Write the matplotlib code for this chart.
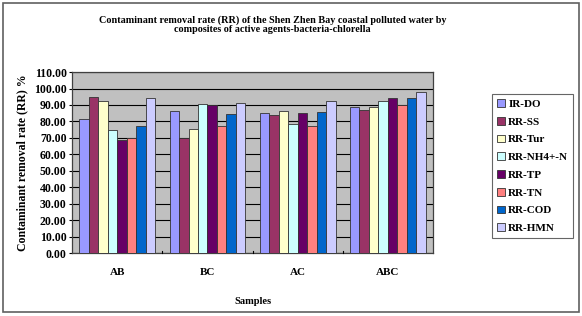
import matplotlib
matplotlib.use("Agg")
import matplotlib.pyplot as plt
import numpy as np
from matplotlib.patches import Rectangle

samples = ["AB", "BC", "AC", "ABC"]
series_names = ["IR-DO", "RR-SS", "RR-Tur", "RR-NH4+-N", "RR-TP", "RR-TN", "RR-COD", "RR-HMN"]
ir_do  = [81.3, 86.4, 85.4, 89.0]
rr_ss  = [94.9, 70.0, 83.8, 87.0]
rr_tur = [92.4, 75.1, 86.4, 89.0]
rr_nh4 = [74.5, 90.6, 78.7, 92.2]
rr_tp  = [68.6, 89.8, 85.4, 94.0]
rr_tn  = [70.0, 77.1, 77.5, 89.8]
rr_cod = [77.1, 84.6, 85.8, 94.0]
rr_hmn = [94.2, 91.0, 92.2, 97.9]
values = [ir_do, rr_ss, rr_tur, rr_nh4, rr_tp, rr_tn, rr_cod, rr_hmn]
colors = ["#9999FF", "#993366", "#FFFFCC", "#CCFFFF", "#660066", "#FF8080", "#0066CC", "#CCCCFF"]
yticks = np.arange(0, 111, 10)

serif = ["Liberation Serif", "DejaVu Serif"]
plt.rcParams['font.family'] = serif

fig = plt.figure(figsize=(5.82, 3.16), dpi=100)
fig.patches.append(Rectangle((0.006, 0.012), 0.988, 0.978, transform=fig.transFigure,
                             fill=False, edgecolor="#606060", linewidth=1.2))

ax = fig.add_axes([0.124, 0.199, 0.620, 0.573])
ax.set_facecolor("#C0C0C0")
w = 0.84 / 8
x = np.arange(len(samples))
for i, (vals, c, name) in enumerate(zip(values, colors, series_names)):
    ax.bar(x - 0.42 + w * (i + 0.5), vals, width=w, color=c, edgecolor="#333333",
           linewidth=0.6, label=name, zorder=3)
ax.set_xlim(-0.5, 3.5)
ax.set_ylim(0, 110)
ax.set_yticks(yticks)
ax.set_yticklabels([f"{v:.2f}" for v in yticks], fontsize=8.5, fontweight="bold")
ax.yaxis.grid(True, color="black", linewidth=0.8, zorder=1)
ax.set_axisbelow(True)
ax.set_xticks(x)
ax.set_xticklabels(samples, fontsize=8, fontweight="bold")
ax.tick_params(axis="x", length=0, pad=11)
ax.tick_params(axis="y", length=2, direction="out", pad=2)
for b in [0.5, 1.5, 2.5]:
    ax.plot([b, b], [0, 1.5], color="black", linewidth=0.8, zorder=4, clip_on=False)
for s in ax.spines.values():
    s.set_color("#404040")
    s.set_linewidth(0.9)
ax.set_xlabel("Samples", fontsize=7.5, fontweight="bold", labelpad=14)
ax.set_ylabel("Contaminant removal rate (RR) %", fontsize=8.5, fontweight="bold", labelpad=4)

fig.text(0.468, 0.937, "Contaminant removal rate (RR) of the Shen Zhen Bay coastal polluted water by",
         ha="center", va="center", fontsize=7.3, fontweight="bold")
fig.text(0.468, 0.908, "composites of active agents-bacteria-chlorella",
         ha="center", va="center", fontsize=7.3, fontweight="bold")

leg = fig.legend(loc="upper left", bbox_to_anchor=(0.836, 0.72),
                 prop={"weight": "bold", "size": 8}, frameon=True, fancybox=False,
                 edgecolor="#404040", handlelength=0.7, handleheight=0.7, handletextpad=0.3,
                 labelspacing=0.72, borderpad=0.45)
leg.get_frame().set_linewidth(0.8)

fig.savefig("out.png", dpi=100)
